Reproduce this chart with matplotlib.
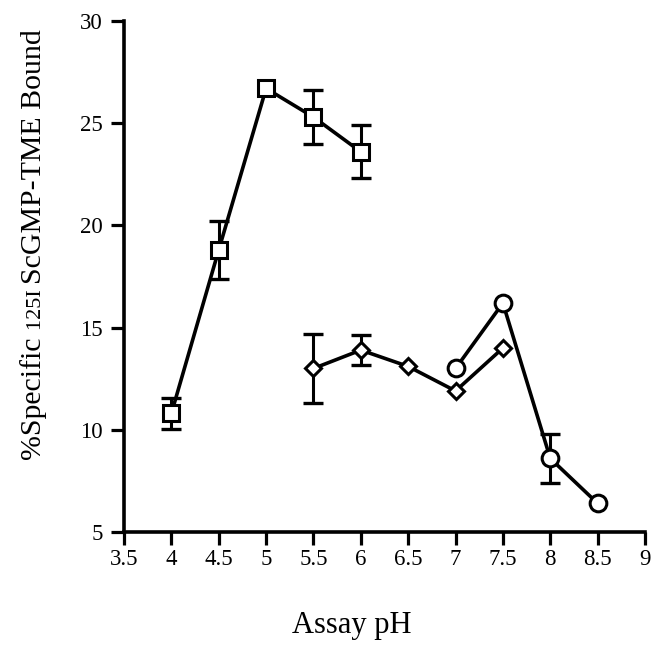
import matplotlib
matplotlib.use("Agg")
import matplotlib.pyplot as plt

# pH series and % specific binding
sq_ph = [4.0, 4.5, 5.0, 5.5, 6.0]
sq_val = [10.8, 18.8, 26.7, 25.3, 23.6]
sq_err = [0.75, 1.4, 0.0, 1.3, 1.3]

dia_ph = [5.5, 6.0, 6.5, 7.0, 7.5]
dia_val = [13.0, 13.9, 13.1, 11.9, 14.0]
dia_err = [1.7, 0.75, 0.0, 0.0, 0.0]

circ_ph = [7.0, 7.5, 8.0, 8.5]
circ_val = [13.0, 16.2, 8.6, 6.4]
circ_err = [0.0, 0.0, 1.2, 0.0]

x_ticks = [3.5, 4, 4.5, 5, 5.5, 6, 6.5, 7, 7.5, 8, 8.5, 9]
x_ticklabels = ["3.5", "4", "4.5", "5", "5.5", "6", "6.5", "7", "7.5", "8", "8.5", "9"]
y_ticks = [5, 10, 15, 20, 25, 30]

plt.rcParams["font.family"] = ["Liberation Serif", "DejaVu Serif"]

W, H = 652, 650
fig = plt.figure(figsize=(W / 100, H / 100), dpi=100)
ax = fig.add_axes([124 / W, 1 - 532 / H, (645 - 124) / W, (532 - 21) / H])

lw = 2.6

def draw(xs, ys, es, marker, ms):
    # only show error bars where a spread was measured
    xe = [x for x, e in zip(xs, es) if e > 0]
    ye = [y for y, e in zip(ys, es) if e > 0]
    ee = [e for e in es if e > 0]
    ax.errorbar(xe, ye, yerr=ee, fmt="none", ecolor="black",
                elinewidth=2.2, capsize=7, capthick=2.4, zorder=2)
    ax.plot(xs, ys, color="black", lw=lw, marker=marker, ms=ms,
            mfc="white", mec="black", mew=2.2, zorder=3)

draw(sq_ph, sq_val, sq_err, "s", 11.5)
draw(dia_ph, dia_val, dia_err, "D", 8.5)
draw(circ_ph, circ_val, circ_err, "o", 12)

ax.set_xlim(3.5, 9)
ax.set_ylim(5, 30)
ax.set_xticks(x_ticks)
ax.set_xticklabels(x_ticklabels)
ax.set_yticks(y_ticks)

for s in ("top", "right"):
    ax.spines[s].set_visible(False)
for s in ("left", "bottom"):
    ax.spines[s].set_linewidth(2.6)

ax.tick_params(axis="both", direction="out", length=9.5, width=2.3,
               labelsize=16.5)
ax.tick_params(axis="y", pad=6)
ax.tick_params(axis="x", pad=3)

# x axis title
fig.text(352 / W, 1 - 625 / H, "Assay pH", fontsize=22, ha="center", va="center")

# y axis title built from pieces so the isotope label is set smaller
renderer = fig.canvas.get_renderer()
pieces = [("%Specific ", 21.5), ("125I ", 16), ("ScGMP-TME Bound", 21.5)]
base_x = 41 / W
y_px = 460
for txt, size in pieces:
    t = fig.text(base_x, 1 - y_px / H, txt, fontsize=size, rotation=90,
                 rotation_mode="anchor", ha="left", va="baseline")
    bb = t.get_window_extent(renderer)
    y_px -= bb.height

fig.savefig("out.png", dpi=100, facecolor="white")
